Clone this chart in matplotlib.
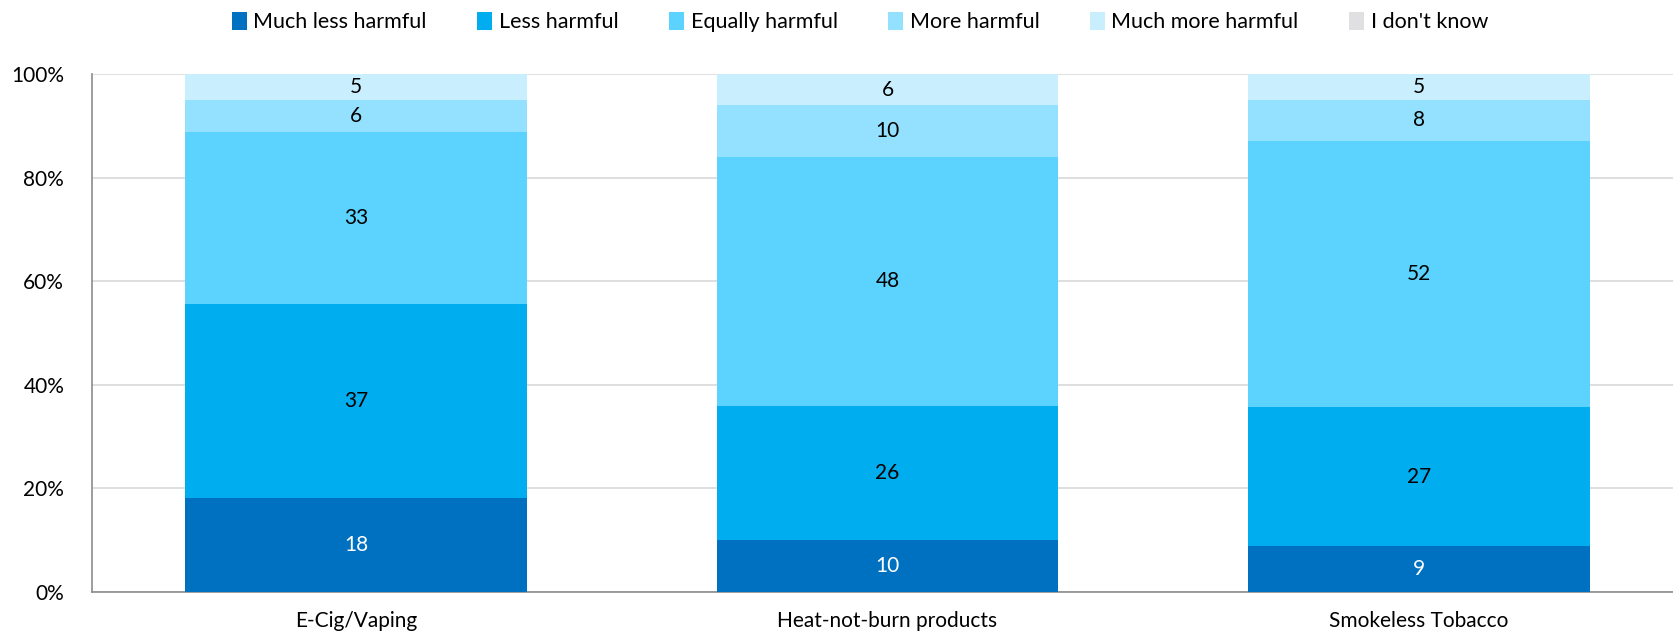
import numpy as np
import matplotlib
matplotlib.use("Agg")
import matplotlib.pyplot as plt

categories = ["E-Cig/Vaping", "Heat-not-burn products", "Smokeless Tobacco"]
series = ["Much less harmful", "Less harmful", "Equally harmful",
          "More harmful", "Much more harmful", "I don't know"]
much_less = [18, 10, 9]
less = [37, 26, 27]
equally = [33, 48, 52]
more = [6, 10, 8]
much_more = [5, 6, 5]
dont_know = [0, 0, 0]

colors = ["#0070C0", "#00ADEE", "#5BD3FE", "#93E1FE", "#C9EFFE", "#E0E0E2"]
label_colors = ["white", "black", "black", "black", "black", "black"]

plt.rcParams['font.family'] = ['Lato', 'DejaVu Sans']

def main():
	data = np.array([much_less, less, equally, more, much_more, dont_know], dtype=float)
	totals = data.sum(axis=0)
	shares = data / totals * 100

	fig = plt.figure(figsize=(16.73, 6.34), dpi=100)
	ax = fig.add_axes([92 / 1673, 42 / 634, 1 - 92 / 1673, (592 - 74) / 634])

	x = np.arange(len(categories))
	bottom = np.zeros(len(categories))
	for i, name in enumerate(series):
		ax.bar(x, shares[i], 0.643, bottom=bottom, color=colors[i], label=name, zorder=3)
		for j in range(len(categories)):
			if data[i, j] > 0:
				ax.text(x[j], bottom[j] + shares[i, j] / 2, "%d" % data[i, j],
					ha="center", va="center", fontsize=15, color=label_colors[i], zorder=4)
		bottom += shares[i]

	ax.set_ylim(0, 100)
	ax.set_xlim(-0.497, 2.478)
	ax.set_yticks(np.arange(0, 101, 20))
	ax.set_yticklabels(["%d%%" % v for v in range(0, 101, 20)], fontsize=15)
	ax.set_xticks(x)
	ax.set_xticklabels(categories, fontsize=15)
	ax.tick_params(axis="x", length=0, pad=14)
	ax.tick_params(axis="y", length=0, pad=20)
	ax.grid(axis="y", color="#D9D9D9", linewidth=1.2, zorder=0)
	for s in ["top", "right"]:
		ax.spines[s].set_visible(False)
	for s in ["left", "bottom"]:
		ax.spines[s].set_color("#8C8C8C")
		ax.spines[s].set_linewidth(1.2)

	fig.legend(loc="upper center", bbox_to_anchor=(0.514, 1.012), ncol=6, frameon=False,
		fontsize=15.5, handlelength=0.7, handleheight=0.9, handletextpad=0.3, columnspacing=2.35)

	fig.savefig("out.png", dpi=100)

if __name__ == '__main__':
	main()
